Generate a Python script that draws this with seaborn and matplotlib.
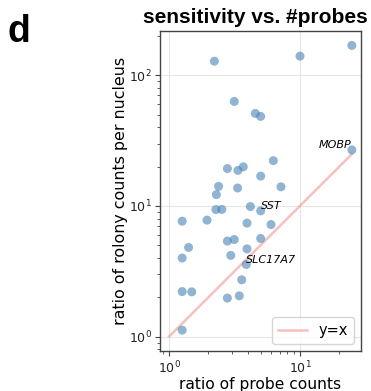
import matplotlib
matplotlib.use("Agg")
import matplotlib.pyplot as plt
import seaborn as sns
import pandas as pd

genes = ["g1", "g2", "g3", "g4", "g5", "g6", "MOBP", "g8", "g9", "g10",
         "g11", "g12", "g13", "g14", "g15", "g16", "g17", "g18", "g19", "SST",
         "g21", "g22", "g23", "g24", "g25", "g26", "g27", "g28", "g29", "g30",
         "g31", "SLC17A7", "g33", "g34", "g35", "g36", "g37", "g38"]
probe_ratio = [24.9, 10.0, 2.22, 3.15, 4.56, 5.01, 24.9, 6.26, 2.79, 3.36,
               3.69, 5.01, 2.39, 3.34, 7.16, 2.30, 2.28, 2.53, 4.18, 5.01,
               1.26, 1.95, 3.94, 6.01, 2.79, 3.15, 5.01, 1.41, 3.94, 1.26,
               2.96, 3.89, 3.59, 1.26, 1.49, 2.79, 3.44, 1.26]
rolony_ratio = [169, 140, 128, 63, 51, 48.4, 26.8, 22.2, 19.3, 18.7,
                19.9, 16.9, 14.1, 13.7, 14.0, 12.2, 9.37, 9.4, 9.88, 9.16,
                7.64, 7.78, 7.38, 7.2, 5.38, 5.53, 5.63, 4.81, 4.69, 3.99,
                4.18, 3.56, 2.72, 2.21, 2.2, 1.97, 2.05, 1.12]
labeled = ["MOBP", "SST", "SLC17A7"]

df = pd.DataFrame({"gene": genes, "x": probe_ratio, "y": rolony_ratio})

plt.rcParams.update({
    "font.family": "DejaVu Sans",
    "axes.edgecolor": "#444444",
    "axes.linewidth": 1.0,
    "xtick.color": "#444444",
    "ytick.color": "#444444",
    "xtick.labelcolor": "#222222",
    "ytick.labelcolor": "#222222",
})

fig = plt.figure(figsize=(3.71, 3.91), dpi=100)
ax = fig.add_axes([0.431, 0.102, 0.542, 0.819])

sns.scatterplot(data=df, x="x", y="y", ax=ax, color="steelblue", alpha=0.6,
                s=42, edgecolor="none", zorder=3)
mx = max(probe_ratio)
sns.lineplot(x=[1, mx], y=[1, mx], ax=ax, color="lightcoral", alpha=0.5,
             lw=1.8, label="y=x", zorder=2)
ax.set_xscale("log")
ax.set_yscale("log")
ax.grid(True, which="major", color="#e6e6e6", lw=0.8, zorder=0)

for g, xv, yv in zip(genes, probe_ratio, rolony_ratio):
    if g == "MOBP":
        ax.text(xv, yv, g, style="italic", fontsize=8, ha="right", va="bottom")
    elif g in labeled:
        ax.text(xv, yv, g, style="italic", fontsize=8, ha="left", va="bottom")

ax.set_xlabel("ratio of probe counts", fontsize=11.2, labelpad=1)
ax.set_ylabel("ratio of rolony counts per nucleus", fontsize=11.4, labelpad=0.5)
ax.tick_params(labelsize=9, pad=2.5)
ax.legend(loc="lower right", fontsize=10.5, frameon=True)
ax.set_title("sensitivity vs. #probes", fontsize=15, fontweight="bold",
             family="Liberation Sans", pad=6, x=0.473)
fig.text(0.02, 0.965, "d", fontsize=27, fontweight="bold",
         family="Liberation Sans", va="top", ha="left")

fig.savefig("out.png", dpi=100)
